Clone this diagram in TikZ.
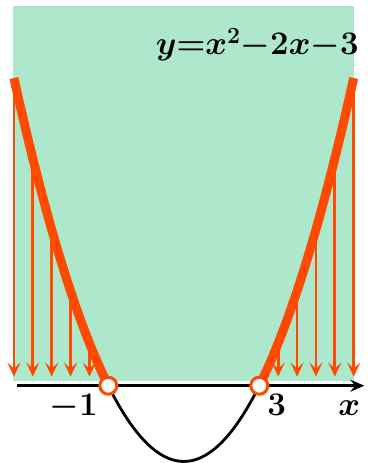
\RequirePackage{fix-cm}
\documentclass[tikz,border=0pt]{standalone}
\usepackage{amsmath}
\usetikzlibrary{arrows.meta}
\definecolor{regiongreen}{HTML}{ADE8CC}
\definecolor{curveorange}{HTML}{FF4A00}
\tikzset{
  dropline/.style={draw=curveorange, line width=2.8pt, -{Stealth[length=14pt,width=13pt,inset=6pt]}},
  thickcurve/.style={draw=curveorange, line width=9pt},
  thincurve/.style={draw=black, line width=2.8pt},
  axisline/.style={draw=black, line width=2.8pt, -{Stealth[length=14pt,width=12pt,inset=5pt]}},
  hole/.style={circle, draw=curveorange, fill=white, line width=3pt, minimum size=17pt, inner sep=0pt},
  bigfont/.style={font=\boldmath\fontsize{33}{36}\selectfont, inner sep=0pt},
  eqfont/.style={font=\boldmath\fontsize{33}{36}\selectfont, inner sep=0pt}
}
\begin{document}
\begin{tikzpicture}[x=37.75pt, y=18.93pt]
\useasboundingbox (-3.869,-4.083) rectangle (5.853,20.375);
\fill[regiongreen] (-3.52,0.26) rectangle (5.51,20.06);
% drop arrows
\foreach \t [count=\i] in {-3.5,-3,-2.5,-2,-1.5,3.5,4,4.5,5,5.5}{
  \coordinate (top\i) at (\t,{(\t)*(\t)-2*(\t)-3});
  \coordinate (bot\i) at (\t,0.48);
  \draw[dropline] (top\i) -- (bot\i);
}
% axis
\coordinate (axs) at (-3.41,0);
\coordinate (axe) at (5.78,0);
\draw[axisline] (axs) -- (axe);
% curves
\draw[thincurve] plot[domain=-1:3, samples=80, smooth] (\x,{\x*\x-2*\x-3});
\draw[thickcurve] plot[domain=-3.5:-1, samples=40, smooth] (\x,{\x*\x-2*\x-3});
\draw[thickcurve] plot[domain=3:5.5, samples=40, smooth] (\x,{\x*\x-2*\x-3});
% holes
\node[hole] (hl) at (-1,0) {};
\node[hole] (hr) at (3,0) {};
% labels
\node[bigfont, anchor=base] (lm1) at (-1.92,-1.6) {$-1$};
\node[bigfont, anchor=base] (l3) at (3.46,-1.6) {$3$};
\node[bigfont, anchor=base] (lx) at (5.38,-1.6) {$x$};
\node[eqfont, anchor=base] (eq) at (2.945,17.47) {$y{=}x^2{-}2x{-}3$};
\end{tikzpicture}
\end{document}
